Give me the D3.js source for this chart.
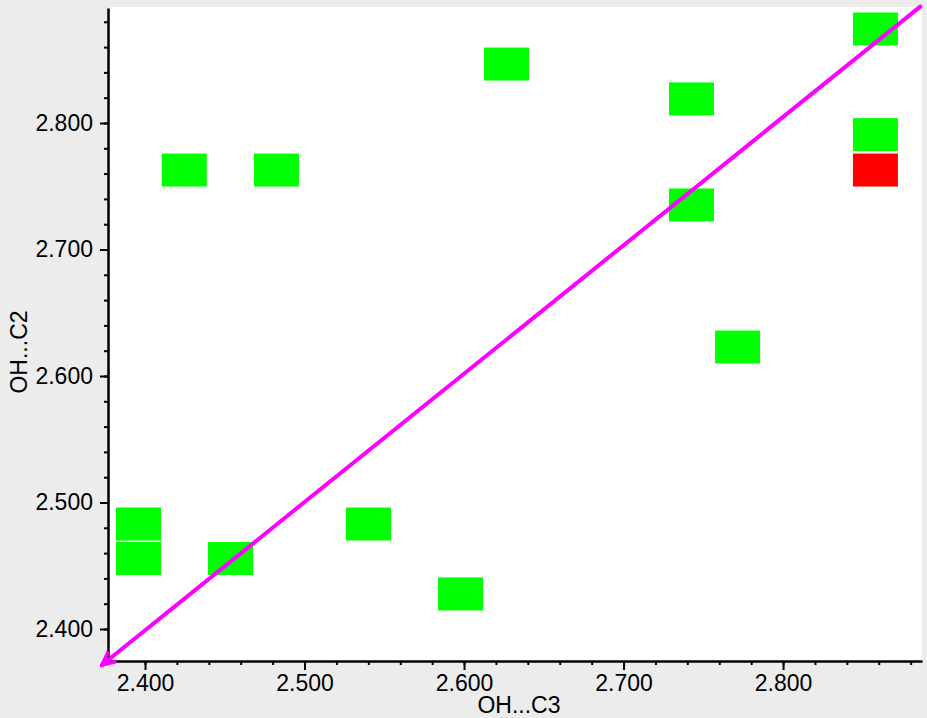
<!DOCTYPE html>
<html>
<head>
<meta charset="utf-8">
<script src="https://cdn.jsdelivr.net/npm/d3@7"></script>
<style>
  body{margin:0;background:#ececec;}
  svg{display:block;font-family:"Liberation Sans",Arial,sans-serif;}
</style>
</head>
<body>
<div id="chart"></div>
<script>
// data (OH...C3 vs OH...C2)
var ptX    = [2.3959,2.3959,2.4536,2.4246,2.4824,2.5401,2.5978,2.6266,2.7426,2.7426,2.7715,2.8579,2.8579,2.8579];
var ptY    = [2.4830,2.4557,2.4557,2.7628,2.7628,2.4830,2.4277,2.8466,2.8190,2.7352,2.6229,2.8743,2.7908,2.7628];
var ptKind = ['g','g','g','g','g','g','g','g','g','g','g','g','g','r'];
var xMajor = [2.4,2.5,2.6,2.7,2.8];
var yMajor = [2.4,2.5,2.6,2.7,2.8];
var xDomain = [2.3768,2.8871];
var yDomain = [2.3747,2.8909];
var diagFrom = [2.886,2.892];   //line start (top right)
var diagTo   = [2.373,2.3715];  //arrow tip (bottom left)
var xTitle = 'OH...C3', yTitle = 'OH...C2';

//Chart Settings
var settings = {
  width:927, height:718,
  margin:{top: 8, right: 5, bottom: 57, left: 108},
  boxW:45, boxH:33,
  fontSize:23
}

var W = settings.width, H = settings.height, m = settings.margin;

var svg = d3.select('#chart').append('svg')
  .attr('width',W).attr('height',H)

svg.append('rect').attr('width',W).attr('height',H).attr('fill','#ececec')

//plot area
svg.append('rect')
  .attr('x',m.left+2).attr('y',m.top-1)
  .attr('width',W-m.right-m.left-2).attr('height',H-m.bottom-m.top+1)
  .attr('fill','#fff')

var x = d3.scaleLinear().domain(xDomain).range([m.left, W-m.right])
var y = d3.scaleLinear().domain(yDomain).range([H-m.bottom, m.top])

//minor tick positions every 0.02 from 2.40
var xMinor = d3.range(0,25).map(i => 2.4 + i*0.02).filter(v => v < xDomain[1])
var yMinor = d3.range(0,25).map(i => 2.4 + i*0.02).filter(v => v < yDomain[1])

//boxes
svg.append('g').selectAll('rect')
  .data(ptX.map((v,i) => ({x:v, y:ptY[i], k:ptKind[i]})))
  .join('rect')
    .attr('x', d => x(d.x) - settings.boxW/2)
    .attr('y', d => y(d.y) - settings.boxH/2)
    .attr('width', settings.boxW)
    .attr('height', settings.boxH)
    .attr('fill', d => d.k==='r' ? '#ff0000' : '#00ff00')

//x axis
var gx = svg.append('g').attr('transform','translate(0,'+(H-m.bottom)+')')
gx.call(d3.axisBottom(x).tickValues(xMinor).tickSize(4).tickFormat(''))
gx.call(g => g.select('.domain').remove())
gx.append('g').call(d3.axisBottom(x).tickValues(xMajor).tickSize(9).tickSizeOuter(0).tickPadding(5).tickFormat(d3.format('.3f')))
gx.selectAll('line').attr('stroke','#000').attr('stroke-width',2)
gx.selectAll('.domain').attr('stroke','#000').attr('stroke-width',2.5)
gx.selectAll('text').attr('fill','#000').style('font-size',settings.fontSize+'px')

//y axis
var gy = svg.append('g').attr('transform','translate('+m.left+',0)')
gy.call(d3.axisLeft(y).tickValues(yMinor).tickSize(4).tickFormat(''))
gy.call(g => g.select('.domain').remove())
gy.append('g').call(d3.axisLeft(y).tickValues(yMajor).tickSize(8).tickSizeOuter(0).tickPadding(7).tickFormat(d3.format('.3f')))
gy.selectAll('line').attr('stroke','#000').attr('stroke-width',2)
gy.selectAll('.domain').attr('stroke','#000').attr('stroke-width',2.5)
gy.selectAll('text').attr('fill','#000').style('font-size',settings.fontSize+'px')

//axis titles
svg.append('text')
  .attr('x',(m.left + W - m.right)/2 + 4).attr('y',H-5)
  .attr('text-anchor','middle')
  .style('font-size',settings.fontSize+'px')
  .text(xTitle)

svg.append('text')
  .attr('transform','translate(27,'+352+') rotate(-90)')
  .attr('text-anchor','middle')
  .style('font-size',settings.fontSize+'px')
  .text(yTitle)

//diagonal with arrow
var defs = svg.append('defs')
defs.append('marker')
  .attr('id','arrow')
  .attr('viewBox','0 0 12 12')
  .attr('refX',10.5).attr('refY',6)
  .attr('markerWidth',17).attr('markerHeight',17)
  .attr('markerUnits','userSpaceOnUse')
  .attr('orient','auto')
  .append('path')
    .attr('d','M1,1.5 L10.5,6 L1,10.5')
    .attr('fill','none')
    .attr('stroke','#ff00ff')
    .attr('stroke-width',2.6)
    .attr('stroke-linejoin','miter')

svg.append('line')
  .attr('x1',x(diagFrom[0])).attr('y1',y(diagFrom[1]))
  .attr('x2',x(diagTo[0])).attr('y2',y(diagTo[1]))
  .attr('stroke','#ff00ff')
  .attr('stroke-width',4)
  .attr('stroke-linecap','round')
  .attr('marker-end','url(#arrow)')
</script>
</body>
</html>
